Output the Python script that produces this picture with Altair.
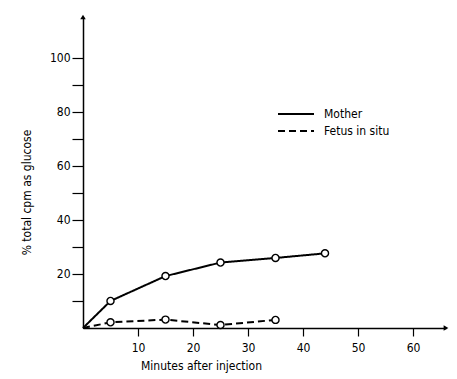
import altair as alt
import pandas as pd

# Data
mother_min = [0, 5, 15, 25, 35, 44]
mother_val = [0, 10, 19.2, 24.2, 25.9, 27.6]
fetus_min = [0, 5, 15, 25, 35]
fetus_val = [0, 2.1, 3.1, 1.1, 3.0]
series_names = ["Mother", "Fetus in situ"]
x_ticks = [10, 20, 30, 40, 50, 60]
y_ticks = [10, 20, 30, 40, 50, 60, 70, 80, 90, 100]

rows = []
for m, v in zip(mother_min, mother_val):
    rows.append({"min": m, "val": v, "series": series_names[0]})
for m, v in zip(fetus_min, fetus_val):
    rows.append({"min": m, "val": v, "series": series_names[1]})
df = pd.DataFrame(rows)
pts = df[df["min"] > 0]

FONT = "DejaVu Sans Condensed"
XMAX, YMAX = 66, 115

xs = alt.Scale(domain=[0, XMAX], nice=False, zero=True)
ys = alt.Scale(domain=[0, YMAX], nice=False, zero=True)

xax = alt.Axis(values=x_ticks, title="Minutes after injection", grid=False,
               domainColor="black", domainWidth=1.5, tickColor="black", tickWidth=1.2,
               tickSize=8, labelFont=FONT, labelFontSize=12, labelColor="black",
               titleFont=FONT, titleFontSize=12, titleFontWeight="normal", titleColor="black",
               titleX=118, titleY=32, titleAlign="center", labelPadding=6)
yax = alt.Axis(values=y_ticks, title="% total cpm as glucose", grid=False,
               labelExpr="datum.value % 20 == 0 ? datum.label : ''",
               labelOverlap=False,
               domainColor="black", domainWidth=1.5, tickColor="black", tickWidth=1.2,
               tickSize=11, labelFont=FONT, labelFontSize=12, labelColor="black",
               titleFont=FONT, titleFontSize=12, titleFontWeight="normal", titleColor="black",
               titleY=175, titleX=-50, labelPadding=2)

X = alt.X("min:Q", scale=xs, axis=xax)
Y = alt.Y("val:Q", scale=ys, axis=yax)

lines = alt.Chart(df).mark_line(color="black", strokeWidth=2).encode(
    x=X, y=Y,
    strokeDash=alt.StrokeDash("series:N",
        scale=alt.Scale(domain=series_names, range=[[1, 0], [7, 4]]),
        legend=alt.Legend(title=None, orient="none", legendX=203, legendY=87,
                          symbolType="M-2,0H2", symbolSize=324, symbolStrokeWidth=2,
                          symbolStrokeColor="black", labelFont=FONT, labelFontSize=12,
                          labelColor="black", rowPadding=1, labelOffset=18, padding=0)),
)

points = alt.Chart(pts).mark_point(shape="circle", filled=True, fill="white",
                                   stroke="black", strokeWidth=1.4, size=50, opacity=1).encode(
    x=alt.X("min:Q", scale=xs, axis=xax),
    y=alt.Y("val:Q", scale=ys, axis=yax),
)

arrows_df = pd.DataFrame({"x": [XMAX, 0], "y": [0, YMAX], "ang": [90, 0]})
arrows = alt.Chart(arrows_df).mark_point(shape="triangle-up", filled=True, color="black",
                                         size=30, opacity=1).encode(
    x=alt.X("x:Q", scale=xs, axis=xax),
    y=alt.Y("y:Q", scale=ys, axis=yax),
    angle=alt.Angle("ang:Q", scale=None),
)

chart = alt.layer(lines, points, arrows).properties(
    width=363, height=311,
    autosize=alt.AutoSizeParams(type="none"),
    padding={"left": 83, "top": 17, "right": 11, "bottom": 51},
    background="white",
).configure_view(stroke=None)

chart.save("out.html", embed_options={"renderer": "svg", "actions": False})
